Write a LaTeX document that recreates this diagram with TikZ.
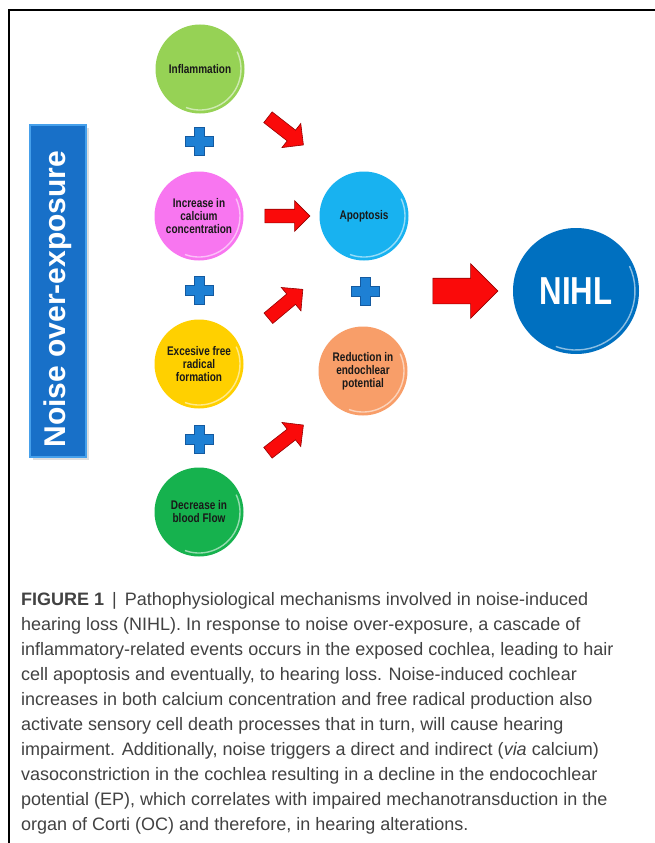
\documentclass[tikz,border=0pt]{standalone}
\usepackage{fontspec}
\setmainfont{Liberation Sans}
\newfontfamily\diafont[FakeStretch=0.8]{Liberation Sans}
\newfontfamily\nihlfont[FakeStretch=0.8]{Liberation Sans}
\usetikzlibrary{shapes.arrows,shadows}

\definecolor{inflamgreen}{RGB}{150,210,85}
\definecolor{calciumpink}{RGB}{248,118,240}
\definecolor{radicalyellow}{RGB}{255,208,0}
\definecolor{flowgreen}{RGB}{22,178,78}
\definecolor{apoptblue}{RGB}{24,178,240}
\definecolor{endosalmon}{RGB}{248,158,105}
\definecolor{nihlblue}{RGB}{0,112,192}
\definecolor{plusblue}{RGB}{30,128,212}
\definecolor{plusdark}{RGB}{20,90,160}
\definecolor{barblue}{RGB}{24,112,200}
\definecolor{barlight}{RGB}{70,160,235}
\definecolor{arrowred}{RGB}{250,10,10}
\definecolor{arrowdark}{RGB}{150,0,0}
\definecolor{captiongray}{RGB}{66,66,66}

\tikzset{
  cause/.style={circle,minimum size=89pt,inner sep=0pt,align=center,
    text=black!90,font=\diafont\bfseries\fontsize{12.5}{13}\selectfont},
  gloss/.style={white,opacity=.55,line width=1.4pt},
  redarrow/.style={single arrow,fill=arrowred,draw=arrowdark,line width=.6pt,
    inner sep=0pt,inner ysep=6.5pt,single arrow head extend=8.5pt,minimum height=45pt},
  bigarrow/.style={redarrow,inner ysep=12.5pt,single arrow head extend=14.5pt,minimum height=65pt},
  noisebar/.style={rectangle,fill=barblue,draw=barlight,line width=2.5pt,
    minimum width=332pt,minimum height=56pt,rotate=90,text=white,
    font=\bfseries\fontsize{30}{30}\selectfont,
    drop shadow={opacity=.25,shadow xshift=3pt,shadow yshift=-3pt}},
  plussign/.pic={
    \filldraw[fill=plusblue,draw=plusdark,line width=.6pt]
      (-5,-14) -- (5,-14) -- (5,-5) -- (14,-5) -- (14,5) -- (5,5) -- (5,14)
      -- (-5,14) -- (-5,5) -- (-14,5) -- (-14,-5) -- (-5,-5) -- cycle;
  }
}

\begin{document}
\begin{tikzpicture}[x=1pt,y=1pt]
  \useasboundingbox[fill=white] (0,0) rectangle (655,-843);

  % frame
  \draw[line width=1.3pt] (9,-843) -- (9,-10) -- (655,-10);

  % noise bar
  \node (noise) [noisebar] at (58,-291) {Noise over-exposure\hspace*{16pt}};

  % causes
  \node (inflam) [cause,fill=inflamgreen] at (200,-69) {Inflammation};
  \node (calcium) [cause,fill=calciumpink] at (199,-216) {Increase in\\calcium\\concentration};
  \node (radical) [cause,fill=radicalyellow] at (199,-364) {Excesive free\\radical\\formation};
  \node (flow) [cause,fill=flowgreen] at (199,-512) {Decrease in\\blood Flow};

  \pic at (199,-141) {plussign};
  \pic at (199,-290) {plussign};
  \pic at (199,-439) {plussign};

  % effects
  \node (apopt) [cause,fill=apoptblue] at (364,-216) {Apoptosis};
  \node (endopot) [cause,fill=endosalmon] at (363,-371) {Reduction in\\endochlear\\potential};
  \pic at (365,-291) {plussign};

  \node (nihl) [circle,minimum size=126pt,fill=nihlblue,text=white,
    font=\nihlfont\bfseries\fontsize{39}{39}\selectfont] at (576,-291) {NIHL};

  \foreach \n in {inflam,calcium,radical,flow,apopt,endopot}
    \draw[gloss] ([shift={(-110:41)}]\n.center) arc[start angle=-110,end angle=25,radius=41];
  \draw[gloss] ([shift={(-110:59)}]nihl.center) arc[start angle=-110,end angle=25,radius=59];

  % arrows
  \node (ar1) [redarrow,rotate=-38] at (283,-129) {};
  \node (ar2) [redarrow] at (284,-216) {};
  \node (ar3) [redarrow,rotate=40] at (283,-306) {};
  \node (ar4) [redarrow,rotate=38] at (283,-441) {};
  \node (ar5) [bigarrow] at (459,-291) {};

  % caption
  \node (caption) [anchor=north west,align=left,inner sep=0pt,text=captiongray,
    font=\fontsize{18}{25}\selectfont] at (21,-592) {%
    \textbf{FIGURE 1} \,|\, Pathophysiological mechanisms involved in noise-induced\\
    hearing loss (NIHL). In response to noise over-exposure, a cascade of\\
    inflammatory-related events occurs in the exposed cochlea, leading to hair\\
    cell apoptosis and eventually, to hearing loss. Noise-induced cochlear\\
    increases in both calcium concentration and free radical production also\\
    activate sensory cell death processes that in turn, will cause hearing\\
    impairment. Additionally, noise triggers a direct and indirect (\textit{via} calcium)\\
    vasoconstriction in the cochlea resulting in a decline in the endocochlear\\
    potential (EP), which correlates with impaired mechanotransduction in the\\
    organ of Corti (OC) and therefore, in hearing alterations.};
\end{tikzpicture}
\end{document}
